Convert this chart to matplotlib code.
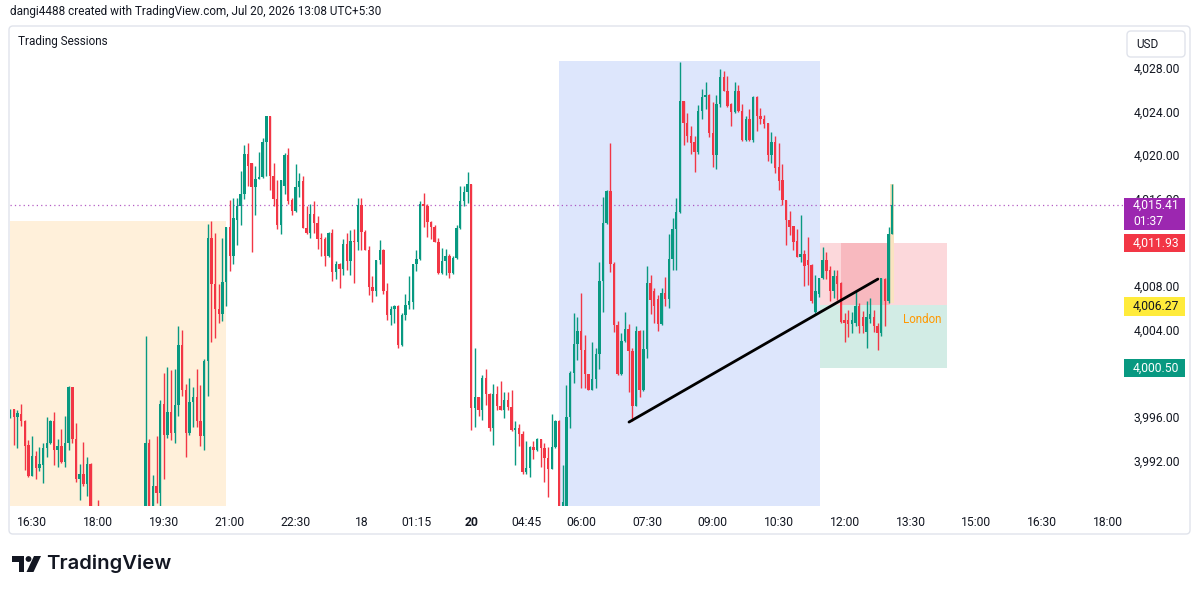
import numpy as np
import matplotlib
matplotlib.use("Agg")
import matplotlib.pyplot as plt
from matplotlib.patches import Rectangle, FancyBboxPatch, Polygon, Circle
from matplotlib.transforms import blended_transform_factory

# 5-minute XAUUSD candles (index 0 = first visible bar)
opens = [
    3996.1, 3996.7, 3996.0, 3996.3, 3995.6, 3993.4, 3990.6, 3992.4, 3991.3, 3991.6,
    3993.1, 3993.6, 3995.6, 3993.0, 3993.3, 3991.9, 3993.6, 3998.7, 3994.0, 3990.3,
    3990.8, 3989.8, 3991.7, 3986.4, 3985.2, 3984.1, 3983.0, 3984.2, 3983.6, 3985.0,
    3984.3, 3985.6, 3984.8, 3983.9, 3985.1, 3986.2, 3985.4, 3986.3, 3993.6, 3986.5,
    3989.7, 3989.0, 3997.2, 3994.3, 3996.4, 3994.5, 3997.1, 4002.6, 3998.5, 3994.5,
    3997.4, 3997.8, 3995.6, 3994.2, 4001.1, 4012.4, 4008.2, 4005.9, 4005.4, 4008.4,
    4013.4, 4010.8, 4014.1, 4015.3, 4016.4, 4020.1, 4019.3, 4017.1, 4017.8, 4018.0,
    4021.2, 4023.6, 4018.1, 4016.0, 4013.6, 4017.2, 4020.0, 4015.9, 4014.9, 4017.1,
    4017.6, 4013.3, 4012.9, 4014.6, 4013.8, 4012.35, 4012.3, 4010.8, 4012.9, 4009.3,
    4010.0, 4009.6, 4011.9, 4010.3, 4012.1, 4012.0, 4015.4, 4013.0, 4011.3, 4007.9,
    4007.5, 4010.4, 4011.3, 4007.5, 4005.3, 4005.9, 4006.2, 4002.6, 4005.3, 4006.3,
    4006.5, 4010.0, 4010.5, 4015.5, 4015.3, 4013.9, 4013.4, 4012.0, 4009.2, 4010.3,
    4010.8, 4009.2, 4010.6, 4013.3, 4015.8, 4016.6, 4017.4, 3996.8, 3997.8, 3996.6,
    3999.6, 3998.1, 3995.0, 3998.1, 3997.0, 3996.6, 3997.5, 3996.9, 3994.8, 3995.0,
    3994.4, 3990.9, 3991.3, 3993.2, 3993.0, 3994.0, 3993.1, 3992.2, 3991.2, 3993.2,
    3995.6, 3986.9, 3987.6, 3996.0, 4000.0, 4002.7, 4003.9, 4002.1, 3999.9, 3998.5,
    3999.5, 4001.8, 4008.5, 4013.8, 4016.7, 4010.0, 4004.4, 3999.9, 4003.0, 4004.1,
    4002.0, 3997.0, 4003.9, 3998.5, 4002.2, 4008.3, 4007.5, 4006.8, 4004.5, 4007.4,
    4006.8, 4010.5, 4013.2, 4014.8, 4025.0, 4023.0, 4021.8, 4021.2, 4020.3, 4024.1,
    4025.3, 4025.5, 4022.0, 4020.0, 4024.7, 4027.2, 4025.9, 4024.7, 4024.0, 4025.9,
    4024.1, 4021.4, 4023.3, 4021.4, 4025.3, 4023.6, 4023.3, 4023.0, 4020.0, 4021.2,
    4018.9, 4017.7, 4015.9, 4014.1, 4013.5, 4012.1, 4010.7, 4010.9, 4010.4, 4009.9,
    4005.65, 4007.3, 4008.7, 4010.4, 4009.5, 4007.5, 4008.9, 4008.3, 4004.9, 4004.9,
    4004.5, 4004.6, 4006.2, 4005.2, 4003.8, 4005.0, 4005.2, 4004.3, 4003.7, 4008.6,
    4006.6, 4012.8,
]
highs = [
    3996.7, 3996.7, 3996.6, 3997.2, 3995.7, 3993.9, 3994.2, 3992.9, 3993.2, 3993.6,
    3996.0, 3995.7, 3996.4, 3994.0, 3994.9, 3996.1, 3998.8, 3998.7, 3995.4, 3991.7,
    3993.7, 3992.3, 3991.8, 3986.9, 3988.4, 3985.0, 3984.8, 3985.3, 3985.8, 3986.1,
    3986.4, 3986.6, 3985.5, 3985.9, 3987.0, 3987.2, 3987.3, 4003.4, 3994.0, 3990.7,
    3994.2, 3997.5, 4000.0, 4000.6, 4000.3, 4000.4, 4004.3, 4004.0, 3999.0, 3999.6,
    3998.7, 4000.4, 3998.9, 4001.3, 4013.7, 4014.0, 4012.9, 4008.2, 4012.4, 4013.4,
    4015.9, 4016.1, 4016.1, 4018.6, 4020.9, 4021.1, 4019.3, 4019.0, 4020.3, 4021.6,
    4023.6, 4023.6, 4019.3, 4017.7, 4017.7, 4020.2, 4020.7, 4016.1, 4019.2, 4018.4,
    4018.1, 4015.3, 4015.5, 4015.8, 4014.4, 4012.9, 4012.5, 4013.0, 4013.2, 4010.3,
    4010.1, 4012.3, 4012.9, 4013.1, 4013.2, 4016.1, 4016.1, 4013.1, 4011.7, 4008.9,
    4010.4, 4012.2, 4011.4, 4008.3, 4006.2, 4006.3, 4006.3, 4005.5, 4007.3, 4008.9,
    4010.0, 4011.3, 4015.8, 4016.5, 4015.5, 4014.0, 4013.6, 4012.4, 4011.5, 4011.4,
    4010.9, 4010.8, 4013.6, 4017.2, 4017.2, 4018.5, 4017.4, 4002.3, 3997.8, 3999.8,
    4000.4, 3998.2, 3999.0, 3998.8, 3999.3, 3998.3, 3998.3, 3998.5, 3995.6, 3995.3,
    3994.7, 3993.8, 3993.3, 3993.8, 3994.1, 3994.0, 3993.6, 3993.2, 3996.3, 3995.7,
    3995.7, 3991.6, 3998.9, 4000.2, 4005.5, 4005.2, 4007.4, 4003.5, 3999.9, 4002.9,
    4002.3, 4010.2, 4016.2, 4016.8, 4021.1, 4010.2, 4004.8, 4003.7, 4005.6, 4004.5,
    4002.3, 4004.3, 4004.0, 4004.0, 4009.8, 4009.0, 4007.8, 4007.2, 4007.8, 4008.8,
    4012.8, 4014.2, 4016.1, 4028.6, 4025.0, 4023.9, 4022.7, 4021.8, 4024.6, 4026.1,
    4026.7, 4025.6, 4024.9, 4025.5, 4027.9, 4027.7, 4027.3, 4024.8, 4026.7, 4026.4,
    4024.7, 4023.6, 4024.2, 4025.4, 4025.4, 4024.3, 4023.7, 4023.0, 4022.1, 4021.8,
    4021.1, 4019.2, 4015.9, 4014.9, 4013.5, 4013.2, 4014.5, 4011.3, 4012.5, 4010.0,
    4009.0, 4008.7, 4011.6, 4011.1, 4009.8, 4009.5, 4009.5, 4008.4, 4005.5, 4005.8,
    4005.6, 4007.5, 4006.4, 4005.7, 4006.6, 4006.9, 4005.8, 4004.6, 4008.7, 4008.7,
    4013.4, 4017.4,
]
lows = [
    3995.9, 3993.4, 3993.1, 3995.2, 3991.1, 3990.5, 3990.6, 3990.3, 3991.0, 3989.9,
    3992.3, 3993.5, 3991.6, 3991.4, 3991.8, 3991.4, 3993.0, 3993.6, 3990.0, 3988.4,
    3989.7, 3988.7, 3985.9, 3984.6, 3983.5, 3982.2, 3982.5, 3983.0, 3983.2, 3983.8,
    3983.9, 3984.2, 3983.1, 3983.4, 3984.6, 3984.9, 3985.0, 3985.9, 3986.0, 3986.1,
    3988.1, 3987.6, 3990.3, 3994.1, 3993.9, 3993.6, 3996.1, 3997.9, 3992.3, 3994.3,
    3995.1, 3995.1, 3993.3, 3993.0, 3997.9, 4002.9, 4003.2, 4004.6, 4004.8, 4006.2,
    4009.4, 4010.0, 4011.8, 4013.6, 4016.0, 4017.2, 4011.1, 4014.5, 4017.8, 4017.9,
    4018.1, 4016.8, 4015.3, 4013.2, 4012.8, 4016.4, 4015.5, 4014.5, 4014.8, 4016.2,
    4013.3, 4012.8, 4012.4, 4012.9, 4011.4, 4010.8, 4009.8, 4010.7, 4008.5, 4008.6,
    4007.8, 4009.0, 4009.5, 4009.0, 4008.3, 4011.3, 4011.3, 4011.3, 4007.2, 4006.5,
    4007.1, 4010.0, 4007.3, 4004.9, 4004.4, 4004.6, 4002.3, 4002.5, 4004.9, 4005.9,
    4005.9, 4009.4, 4010.4, 4013.4, 4012.5, 4012.3, 4012.0, 4009.1, 4009.1, 4009.0,
    4008.7, 4009.1, 4010.5, 4013.2, 4015.3, 4015.6, 3994.8, 3995.1, 3996.1, 3995.7,
    3997.1, 3994.7, 3993.4, 3996.6, 3996.6, 3995.9, 3996.6, 3994.7, 3991.6, 3993.3,
    3990.8, 3990.8, 3990.5, 3992.1, 3992.9, 3991.4, 3990.0, 3988.6, 3991.2, 3993.1,
    3986.3, 3986.2, 3987.0, 3995.0, 3999.1, 4001.2, 3998.6, 3998.6, 3998.5, 3998.5,
    3998.6, 4000.4, 4005.6, 4013.7, 4009.3, 4003.8, 3999.8, 3999.8, 4002.9, 3998.3,
    3995.6, 3997.0, 3997.8, 3998.4, 4001.4, 4005.4, 4004.6, 4003.9, 4004.4, 4006.2,
    4006.0, 4009.5, 4009.5, 4014.7, 4020.9, 4021.2, 4020.1, 4018.5, 4020.1, 4023.3,
    4024.2, 4021.7, 4018.9, 4018.7, 4024.4, 4025.9, 4024.4, 4022.7, 4023.9, 4024.0,
    4021.3, 4021.3, 4021.3, 4021.2, 4022.2, 4022.9, 4022.5, 4019.5, 4019.3, 4018.4,
    4016.8, 4015.4, 4011.8, 4012.7, 4011.3, 4010.7, 4010.2, 4008.0, 4008.1, 4006.4,
    4005.5, 4007.0, 4008.6, 4008.6, 4006.6, 4006.9, 4006.7, 4004.6, 4002.9, 4003.3,
    4003.7, 4004.3, 4003.7, 4003.7, 4002.3, 4004.6, 4003.8, 4002.1, 4003.4, 4004.3,
    4006.4, 4012.8,
]
closes = [
    3996.6, 3996.0, 3996.35, 3995.6, 3993.3, 3990.6, 3992.4, 3991.3, 3991.7, 3993.1,
    3993.6, 3995.6, 3993.0, 3993.3, 3991.9, 3993.6, 3998.7, 3994.0, 3990.3, 3990.8,
    3989.8, 3991.7, 3986.4, 3985.2, 3984.1, 3983.0, 3984.2, 3983.6, 3985.0, 3984.3,
    3985.6, 3984.8, 3983.9, 3985.1, 3986.2, 3985.4, 3986.3, 3993.6, 3986.5, 3989.7,
    3989.0, 3997.2, 3994.3, 3996.4, 3994.5, 3997.1, 4002.6, 3998.5, 3994.5, 3997.4,
    3997.8, 3995.6, 3994.2, 4001.1, 4012.4, 4008.2, 4005.9, 4005.4, 4008.4, 4013.4,
    4010.8, 4014.2, 4015.3, 4016.4, 4020.1, 4019.0, 4017.1, 4017.8, 4018.0, 4021.2,
    4023.6, 4018.1, 4016.0, 4013.6, 4017.7, 4020.0, 4015.8, 4014.9, 4017.1, 4017.6,
    4013.3, 4012.9, 4014.6, 4013.8, 4012.3, 4012.3, 4010.8, 4012.9, 4009.3, 4010.0,
    4009.6, 4011.9, 4010.3, 4012.1, 4012.0, 4015.4, 4013.0, 4011.3, 4007.9, 4007.5,
    4010.4, 4011.3, 4007.5, 4005.3, 4005.9, 4006.2, 4002.6, 4005.3, 4006.3, 4006.6,
    4010.0, 4010.5, 4015.5, 4015.3, 4013.9, 4013.4, 4012.0, 4009.2, 4010.3, 4010.8,
    4009.2, 4010.6, 4013.3, 4015.8, 4016.6, 4017.4, 3996.8, 3997.8, 3996.6, 3999.6,
    3998.1, 3995.0, 3998.1, 3997.0, 3996.6, 3997.5, 3996.9, 3994.8, 3995.0, 3994.4,
    3990.9, 3991.3, 3993.2, 3993.0, 3994.0, 3993.1, 3992.2, 3991.2, 3993.2, 3995.6,
    3986.9, 3988.2, 3996.0, 4000.0, 4002.7, 4003.9, 4002.1, 3999.9, 3998.5, 3999.5,
    4001.8, 4008.5, 4013.8, 4016.7, 4010.0, 4004.4, 3999.9, 4003.0, 4004.1, 4002.0,
    3997.0, 4003.9, 3998.5, 4002.2, 4008.3, 4006.7, 4006.2, 4004.5, 4007.4, 4006.8,
    4010.5, 4013.2, 4014.8, 4025.0, 4023.0, 4021.8, 4021.1, 4020.3, 4024.1, 4025.3,
    4025.5, 4022.0, 4020.0, 4024.7, 4027.2, 4025.9, 4024.5, 4024.0, 4025.9, 4024.1,
    4021.4, 4023.3, 4021.4, 4025.3, 4023.6, 4023.3, 4022.9, 4020.0, 4021.2, 4018.8,
    4017.6, 4015.9, 4014.1, 4013.4, 4012.0, 4010.7, 4010.9, 4009.8, 4009.9, 4006.6,
    4007.5, 4008.7, 4010.4, 4009.4, 4007.5, 4008.9, 4008.2, 4004.7, 4004.6, 4004.5,
    4004.9, 4006.2, 4004.3, 4004.3, 4005.2, 4005.4, 4004.3, 4003.7, 4008.7, 4006.6,
    4012.8, 4015.41,
]

time_ticks = [6, 24, 42, 60, 78, 96, 111, 126, 141, 156, 174, 192, 210, 228, 246, 264, 282, 300]
time_labels = ["16:30", "18:00", "19:30", "21:00", "22:30", "18", "01:15", "20", "04:45",
               "06:00", "07:30", "09:00", "10:30", "12:00", "13:30", "15:00", "16:30", "18:00"]
# 4,000 and 4,012 sit under the London price tags, so they are not shown
price_ticks = [3992, 3996, 4004, 4008, 4016, 4020, 4024, 4028]

# session boxes: (start bar, end bar, top price) - bottoms run off the chart
ny_session = (-1.0, 59.0, 4014.0)
tokyo_session = (150.0, 221.3, 4028.64)
# London box levels
london_start, london_end = 221.3, 256.0
london_high, london_mid, london_low = 4011.93, 4006.27, 4000.50
london_dark = (227.0, 240.4)
current_bar = (240.3, 241.4, 4006.4, 4017.4)
trend_x = [169.1, 237.1]
trend_y = [3995.52, 4008.64]
last_price = 4015.41
countdown = "01:37"

GREEN = "#089981"
RED = "#F23645"
TXT = "#131722"
FONT = "Roboto"

fig = plt.figure(figsize=(12, 5.94), dpi=100)
fig.patch.set_facecolor("white")

# decoration layer in pixel coordinates (header, frame, logo)
deco = fig.add_axes([0, 0, 1, 1], zorder=-1)
deco.set_xlim(0, 1200)
deco.set_ylim(594, 0)
deco.axis("off")
deco.add_patch(FancyBboxPatch((9, 26), 1181, 508, boxstyle="round,pad=0,rounding_size=4",
                              facecolor="white", edgecolor="#E0E3EB", linewidth=1))
deco.text(10, 12, "dangi4488 created with TradingView.com, Jul 20, 2026 13:08 UTC+5:30",
          fontsize=8.5, family=FONT, color=TXT, va="center", ha="left")
deco.add_patch(FancyBboxPatch((1127, 31), 58, 26, boxstyle="round,pad=0,rounding_size=4",
                              facecolor="white", edgecolor="#E0E3EB", linewidth=1))
deco.text(1147, 44, "USD", fontsize=8.5, family=FONT, color=TXT, ha="center", va="center")
# TradingView logo
deco.add_patch(Polygon([(12, 556), (24, 556), (24, 572), (18.5, 572), (18.5, 561.5), (12, 561.5)],
                       closed=True, facecolor=TXT, edgecolor="none"))
deco.add_patch(Circle((28.5, 559), 2.9, facecolor=TXT, edgecolor="none"))
deco.add_patch(Polygon([(34, 556), (41, 556), (33.5, 572), (26.5, 572)],
                       closed=True, facecolor=TXT, edgecolor="none"))
deco.text(46, 564, "TradingView", fontsize=14.6, family="Inter", weight="semibold",
          color=TXT, ha="left", va="center")

ax = fig.add_axes([10 / 1200, 88 / 594, 1114 / 1200, 476 / 594])
ax.patch.set_alpha(0)
ax.set_xlim(-0.03, 304.34)
ax.set_ylim(3987.82, 4031.49)
for s in ax.spines.values():
    s.set_visible(False)

# sessions
ax.add_patch(Rectangle((ny_session[0], 3980), ny_session[1] - ny_session[0], ny_session[2] - 3980,
                       facecolor="#FFF0DA", edgecolor="none", zorder=0))
ax.add_patch(Rectangle((tokyo_session[0], 3980), tokyo_session[1] - tokyo_session[0],
                       tokyo_session[2] - 3980, facecolor="#DDE6FC", edgecolor="none", zorder=0))
ax.add_patch(Rectangle((london_start, london_mid), london_end - london_start, london_high - london_mid,
                       facecolor="#FCD8DB", edgecolor="none", zorder=0.5))
ax.add_patch(Rectangle((london_dark[0], london_mid), london_dark[1] - london_dark[0],
                       london_high - london_mid, facecolor="#F8B9BF", edgecolor="none", zorder=0.6))
ax.add_patch(Rectangle((london_start, london_low), london_end - london_start, london_mid - london_low,
                       facecolor="#D2ECE5", edgecolor="none", zorder=0.5))
ax.add_patch(Rectangle((current_bar[0], current_bar[2]), current_bar[1] - current_bar[0],
                       current_bar[3] - current_bar[2], facecolor="#FBE3C0", edgecolor="none", zorder=0.7))
ax.text(249.2, 4004.9, "London", fontsize=8.3, family=FONT, color="#FF9800", ha="center", va="center",
        zorder=1)

ax.axhline(last_price, color="#9C27B0", linestyle=(0, (1, 2.5)), linewidth=0.9, alpha=0.75, zorder=1)

# candles
o = np.array(opens)
h = np.array(highs)
l = np.array(lows)
c = np.array(closes)
x = np.arange(len(o))
cols = np.where(c >= o, GREEN, RED)
ax.vlines(x, l, h, colors=cols, linewidth=1.0, zorder=2)
ax.bar(x, np.maximum(np.abs(c - o), 0.12), bottom=np.minimum(o, c), width=0.66,
       color=cols, linewidth=0, zorder=2.1)

ax.plot(trend_x, trend_y, color="black", linewidth=2.0, solid_capstyle="round", zorder=3)

# axes ticks
ax.set_xticks(time_ticks)
ax.set_xticklabels(time_labels)
for lab in ax.get_xticklabels():
    lab.set_fontfamily(FONT)
    lab.set_fontsize(8.7)
    lab.set_color(TXT)
    if lab.get_text() == "20":
        lab.set_fontweight("bold")
ax.tick_params(axis="x", length=0, pad=7)
ax.yaxis.tick_right()
ax.set_yticks(price_ticks)
ax.set_yticklabels([f"{v:,.2f}" for v in price_ticks], fontsize=8.7, family=FONT, color=TXT)
ax.tick_params(axis="y", length=0, pad=7)

# price tags on the right scale
tr = blended_transform_factory(ax.transAxes, ax.transData)
tag_w = 61 / 1114
tx = 1.0 + 9 / 1114


def tag(value, text, face, fg, below=0.85, above=0.85):
    ax.add_patch(Rectangle((1.0, value - below), tag_w, above + below, transform=tr,
                           facecolor=face, edgecolor="none", clip_on=False, zorder=6))
    ax.text(tx, value, text, transform=tr, fontsize=8.7, family=FONT, color=fg,
            ha="left", va="center", clip_on=False, zorder=7)


tag(last_price, f"{last_price:,.2f}", "#9C27B0", "white", below=2.3, above=0.66)
ax.text(tx, last_price - 1.45, countdown, transform=tr, fontsize=8.7, family=FONT, color="white",
        ha="left", va="center", clip_on=False, zorder=7)
tag(london_high, f"{london_high:,.2f}", RED, "white")
tag(london_mid - 0.15, f"{london_mid:,.2f}", "#FFEB3B", TXT)
tag(london_low, f"{london_low:,.2f}", GREEN, "white")

ax.text(8 / 1114, 4030.4, "Trading Sessions", transform=tr, fontsize=8.5, family=FONT, color=TXT,
        ha="left", va="center", zorder=7)

fig.savefig("out.png", dpi=100)
